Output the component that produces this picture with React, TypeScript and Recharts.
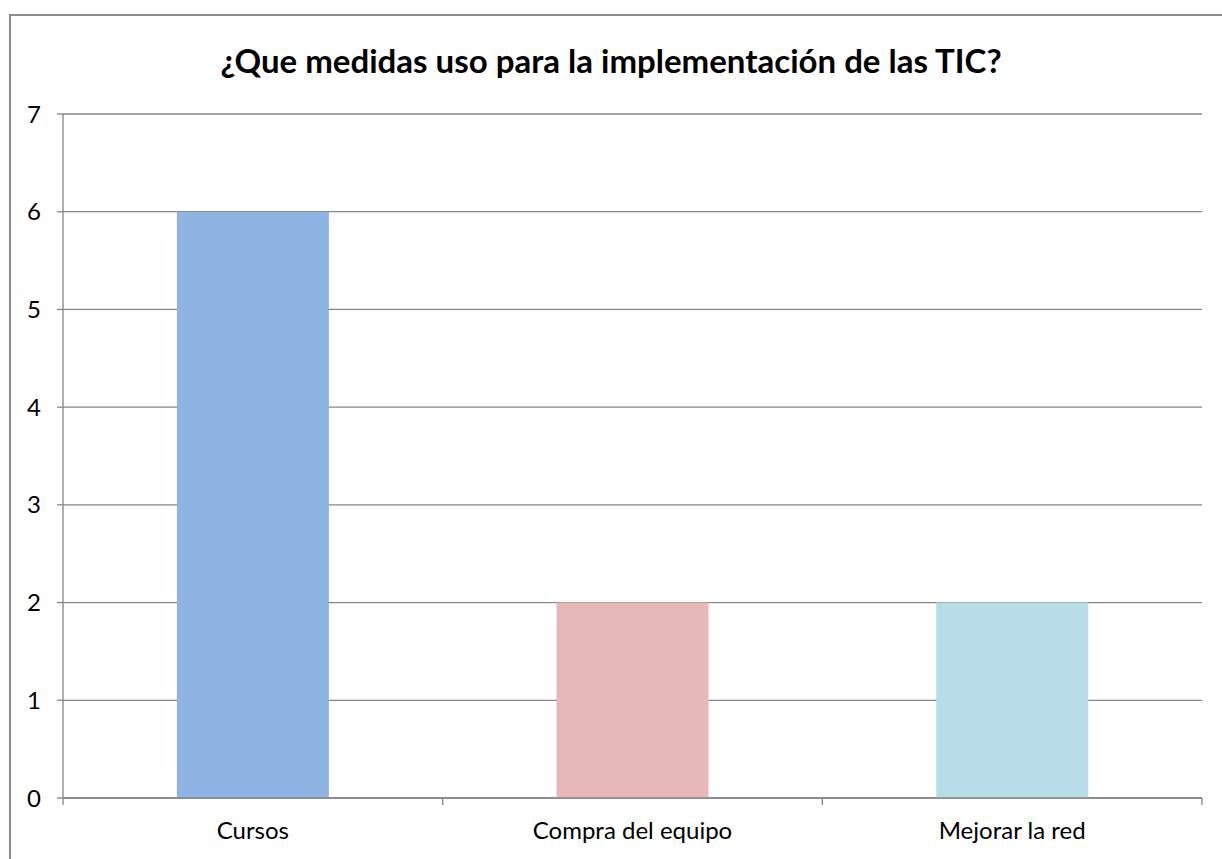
import React from 'react';
import { BarChart, Bar, XAxis, YAxis, CartesianGrid, Cell } from 'recharts';

const categories = ['Cursos', 'Compra del equipo', 'Mejorar la red'];
const values = [6, 2, 2];
const barColors = ['#8EB4E3', '#E6B9B8', '#B7DEE8'];
const yTicks = [0, 1, 2, 3, 4, 5, 6, 7];

const data = categories.map((name, i) => ({ name, value: values[i] }));

const font = 'Lato, "Open Sans", sans-serif';
const gray = '#868686';
const labelGap = 14;

// category label plus the tick marks that sit between categories (Excel style)
const CategoryTick = (props: any) => {
  const { x, y, payload, index, visibleTicksCount } = props;
  const half = payload.offset || 0;
  const axisY = y - labelGap;
  const isLast = index === (visibleTicksCount ?? categories.length) - 1;
  return (
    <g>
      <line x1={x - half} x2={x - half} y1={axisY} y2={axisY + 7} stroke={gray} strokeWidth={1.3} />
      {isLast && (
        <line x1={x + half} x2={x + half} y1={axisY} y2={axisY + 7} stroke={gray} strokeWidth={1.3} />
      )}
      <text x={x} y={y + 10} dy="0.71em" textAnchor="middle" fill="#000" fontSize={24} fontFamily={font}>
        {payload.value}
      </text>
    </g>
  );
};

export default function App() {
  return (
    <div style={{ position: 'absolute', left: 0, top: 0, width: 1222, height: 859, overflow: 'hidden', background: '#fff' }}>
      <div
        style={{
          position: 'absolute',
          left: 9,
          top: 14,
          width: 1213,
          height: 845,
          borderTop: '2px solid #8c8c8c',
          borderLeft: '2px solid #8c8c8c',
        }}
      />
      <div
        style={{
          position: 'absolute',
          left: 0,
          top: 38,
          width: 1222,
          textAlign: 'center',
          fontFamily: font,
          fontWeight: 700,
          fontSize: 33,
          lineHeight: '44px',
          color: '#000',
        }}
      >
        ¿Que medidas uso para la implementación de las TIC?
      </div>
      <div style={{ position: 'absolute', left: 0, top: 0 }}>
        <BarChart
          width={1222}
          height={859}
          data={data}
          margin={{ top: 114, right: 20, left: 13, bottom: 13 }}
          barCategoryGap="30%"
        >
          <CartesianGrid vertical={false} stroke={gray} strokeWidth={1.3} />
          <XAxis
            dataKey="name"
            tickLine={false}
            axisLine={{ stroke: gray, strokeWidth: 1.3 }}
            tick={<CategoryTick />}
            tickSize={0}
            tickMargin={labelGap}
            height={48}
          />
          <YAxis
            domain={[0, 7]}
            ticks={yTicks}
            width={50}
            axisLine={{ stroke: gray, strokeWidth: 1.3 }}
            tickLine={{ stroke: gray, strokeWidth: 1.3 }}
            tickSize={6}
            tickMargin={16}
            tick={{ fill: '#000', fontSize: 24, fontFamily: font }}
          />
          <Bar dataKey="value" isAnimationActive={false}>
            {data.map((d, i) => (
              <Cell key={d.name} fill={barColors[i]} />
            ))}
          </Bar>
        </BarChart>
      </div>
    </div>
  );
}
